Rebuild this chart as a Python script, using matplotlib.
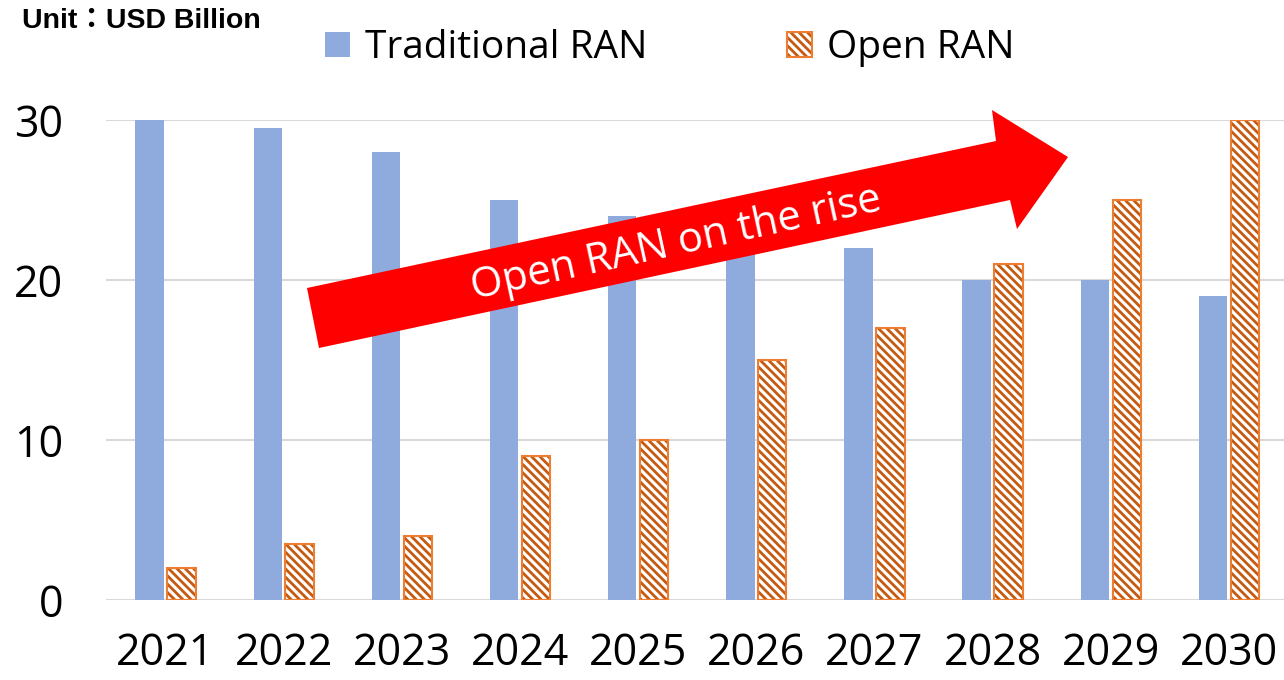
import numpy as np
import matplotlib
matplotlib.use("Agg")
import matplotlib.pyplot as plt
from matplotlib.patches import Polygon, Patch
from matplotlib.legend_handler import HandlerTuple

years = ["2021", "2022", "2023", "2024", "2025", "2026", "2027", "2028", "2029", "2030"]
traditional_ran = [30, 29.5, 28, 25, 24, 23, 22, 20, 20, 19]
open_ran = [2, 3.5, 4, 9, 10, 15, 17, 21, 25, 30]
y_ticks = [0, 10, 20, 30]

blue = "#8FAADC"
orange_edge = "#ED7D31"
orange_hatch = "#C55A11"
grid_gray = "#D9D9D9"
hatch = "\\\\\\\\"

plt.rcParams["font.family"] = ["Open Sans", "DejaVu Sans"]
plt.rcParams["hatch.linewidth"] = 2.0

W, H = 1284, 680
fig = plt.figure(figsize=(W / 100, H / 100), dpi=100)
ax = fig.add_axes([106.4 / W, 1 - 600 / H, (1288 - 106.4) / W, 480 / H])

x = np.arange(len(years))
bw = 0.24
off = 0.135
ax.bar(x - off, traditional_ran, bw, color=blue, zorder=2)
ax.bar(x + off, open_ran, bw, color="white", edgecolor=orange_hatch, hatch=hatch,
       linewidth=0, zorder=2)
ax.bar(x + off, open_ran, bw, fill=False, edgecolor=orange_edge, linewidth=1.5, zorder=3)

ax.set_xlim(-0.5, len(years) - 0.5)
ax.set_ylim(0, 30)
ax.set_yticks(y_ticks)
ax.set_xticks(x)
ax.set_xticklabels(years)
ax.tick_params(axis="x", length=0, pad=23, labelsize=31)
ax.tick_params(axis="y", length=0, pad=31, labelsize=31)
for s in ax.spines.values():
    s.set_visible(False)
ax.yaxis.grid(True, color=grid_gray, linewidth=1.5, zorder=0)
ax.set_axisbelow(True)

# legend
h_trad = Patch(facecolor=blue, edgecolor="none")
h_open = (Patch(facecolor="white", edgecolor=orange_hatch, hatch=hatch, linewidth=0),
          Patch(fill=False, edgecolor=orange_edge, linewidth=1.5))
fig.legend([h_trad, h_open], ["Traditional RAN", "Open RAN"],
           handler_map={tuple: HandlerTuple(ndivide=1, pad=0)},
           loc="center", bbox_to_anchor=(670 / W, 1 - 48 / H), ncol=2,
           frameon=False, fontsize=28, handlelength=0.62, handleheight=0.62,
           handletextpad=0.4, columnspacing=3.6)

fig.text(22 / W, 1 - 21 / H, "Unit：USD Billion", fontsize=20.5, fontweight="bold",
         family=["Liberation Sans", "Noto Sans CJK TC"], ha="left", va="center")

# big red arrow overlay (pixel coords of the figure)
arrow_px = [(307, 288), (996, 141), (992, 110), (1068, 157), (1017, 229),
            (1010, 200), (319, 348)]
arrow_pts = [(px / W, 1 - py / H) for px, py in arrow_px]
fig.patches.append(Polygon(arrow_pts, closed=True, facecolor="#FF0000",
                           edgecolor="none", transform=fig.transFigure, zorder=5))
fig.text(676 / W, 1 - 244 / H, "Open RAN on the rise", color="white", fontsize=30,
         rotation=12.3, rotation_mode="anchor", ha="center", va="center", zorder=6)

fig.savefig("out.png", dpi=100)
